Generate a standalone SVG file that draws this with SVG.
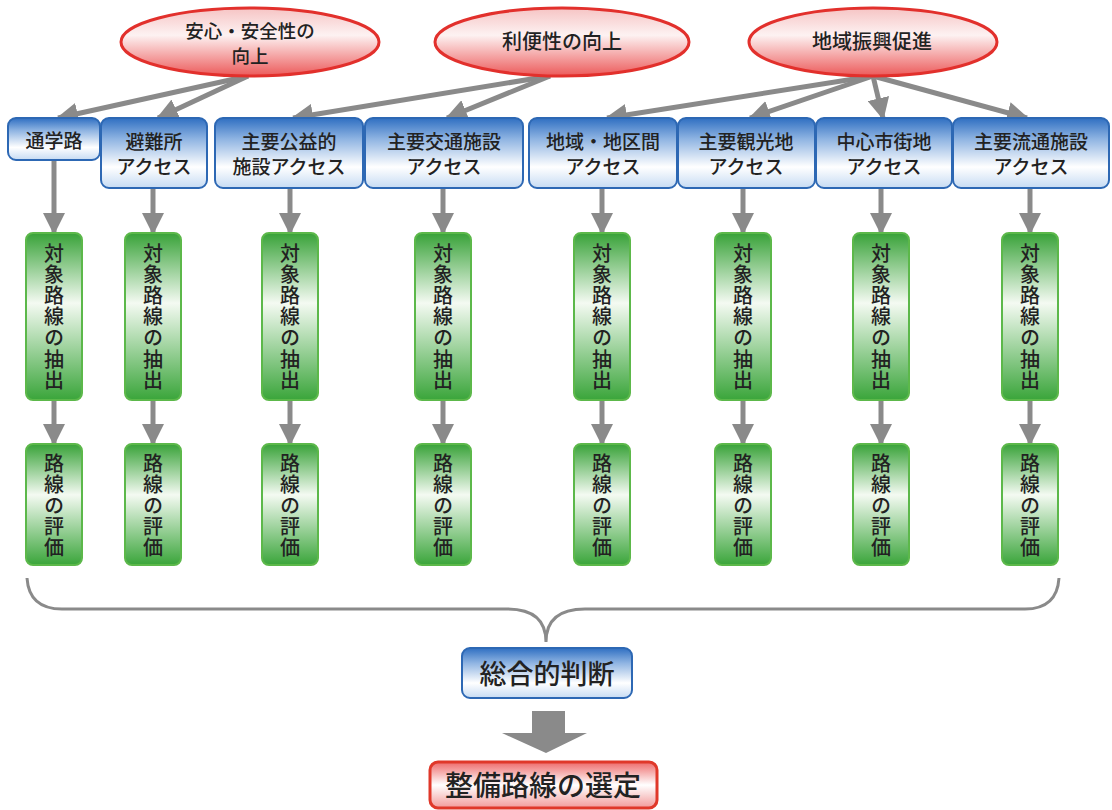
<svg xmlns="http://www.w3.org/2000/svg" width="1112" height="810" viewBox="0 0 1112 810">
<defs>
<linearGradient id="gRed" x1="0" y1="0" x2="0" y2="1">
<stop offset="0" stop-color="#f6c4c4"/>
<stop offset="0.4" stop-color="#fdf2f2"/>
<stop offset="1" stop-color="#ec5a5a"/>
</linearGradient>
<linearGradient id="gBlue" x1="0" y1="0" x2="0" y2="1">
<stop offset="0" stop-color="#2f6fc2"/>
<stop offset="0.3" stop-color="#8fb4e2"/>
<stop offset="0.7" stop-color="#ffffff"/>
<stop offset="1" stop-color="#c6dbf3"/>
</linearGradient>
<linearGradient id="gGreen" x1="0" y1="0" x2="0" y2="1">
<stop offset="0" stop-color="#38a238"/>
<stop offset="0.42" stop-color="#f4faf2"/>
<stop offset="1" stop-color="#3aa53a"/>
</linearGradient>
<linearGradient id="gRedBox" x1="0" y1="0" x2="0" y2="1">
<stop offset="0" stop-color="#ee6a6a"/>
<stop offset="0.5" stop-color="#ffffff"/>
<stop offset="1" stop-color="#f29a9a"/>
</linearGradient>
<marker id="ah" markerUnits="userSpaceOnUse" markerWidth="22" markerHeight="22" refX="20" refY="11" orient="auto">
<path d="M0,0 L22,11 L0,22 z" fill="#8a8a8a"/>
</marker>
<style>
.ell{fill:url(#gRed);stroke:#e2302c;stroke-width:3}
.blue{fill:url(#gBlue);stroke:#2d68b4;stroke-width:2}
.green{fill:url(#gGreen);stroke:#5cb84a;stroke-width:2}
.redbox{fill:url(#gRedBox);stroke:#e0382a;stroke-width:3}
.t{font-family:"Noto Sans CJK JP","Noto Sans CJK SC",sans-serif;font-weight:500;fill:#222;text-anchor:middle}
.t18{font-size:18.5px}
.t19{font-size:19px}
.t20{font-size:20px}
.vt{font-family:"Noto Sans CJK JP","Noto Sans CJK SC",sans-serif;font-weight:500;fill:#222;font-size:20px;writing-mode:vertical-rl;text-anchor:start}
.vx{letter-spacing:1.2px}
.ve{letter-spacing:1px}
.c{stroke:#8a8a8a;stroke-width:5;fill:none;marker-end:url(#ah)}
.brace{stroke:#8a8a8a;stroke-width:3;fill:none}
</style>
</defs>

<g id="connectors">
<line class="c" x1="248" y1="76" x2="58" y2="118"/>
<line class="c" x1="248" y1="76" x2="158" y2="118"/>
<line class="c" x1="550" y1="76" x2="293" y2="118"/>
<line class="c" x1="550" y1="76" x2="447" y2="118"/>
<line class="c" x1="873" y1="76" x2="607" y2="118"/>
<line class="c" x1="873" y1="76" x2="750" y2="118"/>
<line class="c" x1="873" y1="76" x2="883" y2="118"/>
<line class="c" x1="873" y1="76" x2="1027" y2="118"/>

<line class="c" x1="54" y1="160" x2="54" y2="233"/>
<line class="c" x1="153" y1="188" x2="153" y2="233"/>
<line class="c" x1="290" y1="188" x2="290" y2="233"/>
<line class="c" x1="443" y1="188" x2="443" y2="233"/>
<line class="c" x1="602" y1="188" x2="602" y2="233"/>
<line class="c" x1="743" y1="188" x2="743" y2="233"/>
<line class="c" x1="881" y1="188" x2="881" y2="233"/>
<line class="c" x1="1030" y1="188" x2="1030" y2="233"/>

<line class="c" x1="54" y1="400" x2="54" y2="444"/>
<line class="c" x1="153" y1="400" x2="153" y2="444"/>
<line class="c" x1="290" y1="400" x2="290" y2="444"/>
<line class="c" x1="443" y1="400" x2="443" y2="444"/>
<line class="c" x1="602" y1="400" x2="602" y2="444"/>
<line class="c" x1="743" y1="400" x2="743" y2="444"/>
<line class="c" x1="881" y1="400" x2="881" y2="444"/>
<line class="c" x1="1030" y1="400" x2="1030" y2="444"/>

<path class="brace" d="M27,578 Q29,609 62,609 L507,609 Q546,609 546,642 Q546,609 585,609 L1025,609 Q1057,609 1059,578"/>
<polygon points="532,711 565,711 565,733 587,733 546,753 502,733 532,733" fill="#8a8a8a"/>
</g>

<g id="e1"><ellipse class="ell" cx="250" cy="42" rx="129" ry="34"/>
<text class="t t18" x="250" y="38">安心・安全性の</text><text class="t t18" x="250" y="63">向上</text></g>
<g id="e2"><ellipse class="ell" cx="562" cy="42" rx="127" ry="34"/>
<text class="t t20" x="562" y="49">利便性の向上</text></g>
<g id="e3"><ellipse class="ell" cx="873" cy="42" rx="124" ry="34"/>
<text class="t t20" x="872" y="49">地域振興促進</text></g>

<g id="b1"><rect class="blue" x="8" y="118" width="92" height="42" rx="8"/>
<text class="t t19" x="54" y="148">通学路</text></g>
<g id="b2"><rect class="blue" x="101" y="118" width="106" height="70" rx="8"/>
<text class="t t19" x="154" y="149">避難所</text><text class="t t19" x="154" y="174">アクセス</text></g>
<g id="b3"><rect class="blue" x="215" y="118" width="148" height="70" rx="8"/>
<text class="t t19" x="289" y="149">主要公益的</text><text class="t t19" x="289" y="174">施設アクセス</text></g>
<g id="b4"><rect class="blue" x="365" y="118" width="158" height="70" rx="8"/>
<text class="t t19" x="444" y="149">主要交通施設</text><text class="t t19" x="444" y="174">アクセス</text></g>
<g id="b5"><rect class="blue" x="529" y="118" width="148" height="70" rx="8"/>
<text class="t t19" x="603" y="149">地域・地区間</text><text class="t t19" x="603" y="174">アクセス</text></g>
<g id="b6"><rect class="blue" x="678" y="118" width="137" height="70" rx="8"/>
<text class="t t19" x="746" y="149">主要観光地</text><text class="t t19" x="746" y="174">アクセス</text></g>
<g id="b7"><rect class="blue" x="816" y="118" width="136" height="70" rx="8"/>
<text class="t t19" x="884" y="149">中心市街地</text><text class="t t19" x="884" y="174">アクセス</text></g>
<g id="b8"><rect class="blue" x="953" y="118" width="156" height="70" rx="8"/>
<text class="t t19" x="1031" y="149">主要流通施設</text><text class="t t19" x="1031" y="174">アクセス</text></g>

<g id="x1"><rect class="green" x="26" y="233" width="56" height="167" rx="7"/><text class="vt vx" x="54" y="243">対象路線の抽出</text></g>
<g id="x2"><rect class="green" x="125" y="233" width="56" height="167" rx="7"/><text class="vt vx" x="153" y="243">対象路線の抽出</text></g>
<g id="x3"><rect class="green" x="262" y="233" width="56" height="167" rx="7"/><text class="vt vx" x="290" y="243">対象路線の抽出</text></g>
<g id="x4"><rect class="green" x="415" y="233" width="56" height="167" rx="7"/><text class="vt vx" x="443" y="243">対象路線の抽出</text></g>
<g id="x5"><rect class="green" x="574" y="233" width="56" height="167" rx="7"/><text class="vt vx" x="602" y="243">対象路線の抽出</text></g>
<g id="x6"><rect class="green" x="715" y="233" width="56" height="167" rx="7"/><text class="vt vx" x="743" y="243">対象路線の抽出</text></g>
<g id="x7"><rect class="green" x="853" y="233" width="56" height="167" rx="7"/><text class="vt vx" x="881" y="243">対象路線の抽出</text></g>
<g id="x8"><rect class="green" x="1002" y="233" width="56" height="167" rx="7"/><text class="vt vx" x="1030" y="243">対象路線の抽出</text></g>

<g id="v1"><rect class="green" x="26" y="444" width="56" height="121" rx="7"/><text class="vt ve" x="54" y="453">路線の評価</text></g>
<g id="v2"><rect class="green" x="125" y="444" width="56" height="121" rx="7"/><text class="vt ve" x="153" y="453">路線の評価</text></g>
<g id="v3"><rect class="green" x="262" y="444" width="56" height="121" rx="7"/><text class="vt ve" x="290" y="453">路線の評価</text></g>
<g id="v4"><rect class="green" x="415" y="444" width="56" height="121" rx="7"/><text class="vt ve" x="443" y="453">路線の評価</text></g>
<g id="v5"><rect class="green" x="574" y="444" width="56" height="121" rx="7"/><text class="vt ve" x="602" y="453">路線の評価</text></g>
<g id="v6"><rect class="green" x="715" y="444" width="56" height="121" rx="7"/><text class="vt ve" x="743" y="453">路線の評価</text></g>
<g id="v7"><rect class="green" x="853" y="444" width="56" height="121" rx="7"/><text class="vt ve" x="881" y="453">路線の評価</text></g>
<g id="v8"><rect class="green" x="1002" y="444" width="56" height="121" rx="7"/><text class="vt ve" x="1030" y="453">路線の評価</text></g>

<g id="judge"><rect class="blue" x="462" y="648" width="170" height="50" rx="8"/>
<text class="t" style="font-size:27px" x="547" y="684">総合的判断</text></g>
<g id="select"><rect class="redbox" x="430" y="762" width="227" height="46" rx="8"/>
<text class="t" style="font-size:28px" x="543" y="796">整備路線の選定</text></g>
</svg>
